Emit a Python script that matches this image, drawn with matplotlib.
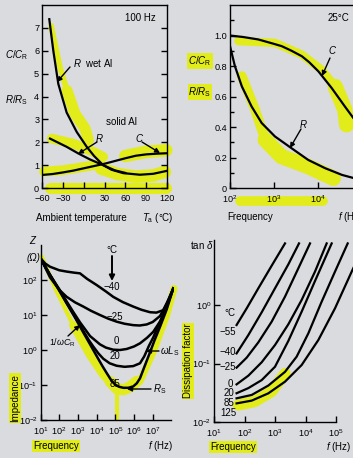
import matplotlib
matplotlib.use('Agg')
import matplotlib.pyplot as plt
import matplotlib.transforms as mtransforms
from matplotlib import font_manager as fm
from matplotlib.patches import FancyArrowPatch
from matplotlib.ticker import FixedLocator, NullLocator, FuncFormatter

# ---------------- data ----------------
# (a) C/C_R and R/R_S versus ambient temperature at 100 Hz
temp_wetR = [-49.5, -43.7, -36.5, -24.5, -10, 4.4, 15, 28, 40, 57, 81, 100, 120]
ratio_wetR = [7.38, 6.0, 4.55, 3.3, 2.45, 1.8, 1.4, 1.0, 0.8, 0.65, 0.58, 0.62, 0.75]
temp_solidR = [-48.5, -24.5, -7.7, 9, 28, 45, 60]
ratio_solidR = [2.16, 1.80, 1.51, 1.25, 1.0, 0.77, 0.66]
temp_C = [-60, -45, -30, -15, 0, 15, 30, 45, 60, 75, 90, 105, 120]
ratio_C = [0.57, 0.61, 0.68, 0.76, 0.86, 0.96, 1.06, 1.18, 1.30, 1.41, 1.47, 1.50, 1.52]
temp_ticks = [-60, -30, 0, 30, 60, 90, 120]

# (b) C/C_R and R/R_S versus frequency at 25 degC
freq_C = [100, 200, 440, 1000, 1500, 2500, 4300, 6300, 10200, 20400, 40700, 71000]
ratio_fC = [1.0, 0.99, 0.974, 0.945, 0.93, 0.90, 0.864, 0.825, 0.765, 0.656, 0.535, 0.44]
freq_R = [100, 129, 186, 309, 525, 1050, 2500, 6000, 14500, 35000, 71000]
ratio_fR = [0.93, 0.80, 0.666, 0.535, 0.426, 0.338, 0.261, 0.184, 0.13, 0.086, 0.062]

# (c) impedance versus frequency, per temperature (degC)
freq_m40 = [10, 18, 32, 100, 250, 630, 1290, 3160, 1.0e4, 3.16e4, 7.76e4, 2.51e5, 9.12e5,
            2.51e6, 7.24e6, 1.58e7, 3.72e7, 7.08e7, 1.26e8]
z_m40 = [417, 295, 240, 190, 174, 162, 155, 107, 72, 47, 33, 23.4, 17.4, 14.1, 12.0, 11.7,
         13.8, 28, 57.5]
freq_m25 = [10, 18, 32, 100, 250, 710, 1950, 5000, 1.51e4, 3.98e4, 1.17e5, 3.16e5, 9.12e5,
            2.0e6, 4.79e6, 1.0e7, 2.45e7, 5.62e7, 1.26e8]
z_m25 = [417, 224, 120, 52.5, 33.1, 22.9, 17.4, 13.2, 10.0, 7.94, 6.46, 5.62, 5.13, 5.01,
         5.37, 6.31, 9.33, 20.9, 57.5]
freq_0 = [10, 32, 100, 250, 560, 1290, 4470, 1.51e4, 3.16e4, 7.76e4, 1.78e5, 4.07e5, 1.0e6,
          2.09e6, 5.01e6, 1.07e7, 2.51e7, 5.62e7, 1.26e8]
z_0 = [417, 141, 55, 24.5, 12.3, 6.2, 2.5, 1.45, 1.17, 1.02, 1.0, 1.07, 1.26, 1.55, 2.24,
       3.31, 6.61, 18.2, 57.5]
freq_20 = [10, 32, 100, 250, 710, 1950, 3980, 6610, 1.26e4, 2.29e4, 5.01e4, 1.17e5, 3.16e5,
           9.12e5, 2.09e6, 3.55e6, 6.31e6, 1.07e7, 2.45e7, 5.62e7, 1.26e8]
z_20 = [417, 141, 52, 22.5, 8.9, 3.5, 1.86, 1.26, 0.794, 0.562, 0.417, 0.355, 0.331, 0.347,
        0.417, 0.661, 1.32, 2.29, 6.31, 16.6, 57.5]
freq_85 = [10, 32, 100, 250, 710, 1950, 4470, 1.0e4, 2.0e4, 3.47e4, 6.31e4, 1.0e5, 1.58e5,
           2.69e5, 5.01e5, 9.12e5, 1.41e6, 2.09e6, 3.98e6, 7.24e6, 1.26e7, 2.45e7, 5.62e7, 1.26e8]
z_85 = [417, 141, 50.1, 21.4, 8.32, 3.16, 1.45, 0.676, 0.355, 0.219, 0.132, 0.102, 0.0891,
        0.0832, 0.0832, 0.0912, 0.112, 0.155, 0.380, 0.871, 1.91, 4.57, 14.5, 57.5]
imp_labels = ['\u221240', '\u221225', '0', '20', '85']

# (d) dissipation factor versus frequency, per temperature (degC)
freq_d_m55 = [55, 118, 284, 778, 2128]
tan_m55 = [0.455, 0.877, 1.93, 4.70, 11.3]
freq_d_m40 = [55, 134, 366, 1000, 2735, 6124]
tan_m40 = [0.149, 0.307, 0.750, 1.93, 4.95, 11.3]
freq_d_m25 = [55, 118, 284, 778, 2128, 5821, 14060]
tan_m25 = [0.085, 0.126, 0.230, 0.519, 1.39, 4.24, 11.3]
freq_d_0 = [55, 134, 366, 1000, 2735, 7482, 20464, 49431]
tan_0 = [0.044, 0.062, 0.105, 0.207, 0.468, 1.22, 3.72, 11.3]
freq_d_20 = [55, 134, 366, 1000, 2735, 7482, 20464, 72111]
tan_20 = [0.031, 0.038, 0.052, 0.088, 0.243, 0.769, 2.57, 11.3]
freq_d_85 = [55, 172, 604, 2128, 5129, 12388, 33884, 92683, 241546]
tan_85 = [0.0254, 0.029, 0.042, 0.072, 0.131, 0.328, 1.14, 3.72, 11.3]
freq_d_125 = [55, 172, 604, 2128, 7482, 26363, 92683, 326588, 893305]
tan_125 = [0.0208, 0.0232, 0.0309, 0.0489, 0.0942, 0.252, 0.877, 3.72, 11.3]
df_labels = ['\u221255', '\u221240', '\u221225', '0', '20', '85', '125']

# yellow highlighter strokes (data coordinates of each panel)
hl_a_wet_T = [-47, -34, -24, -12.5, 2, 6.7]
hl_a_wet_V = [7.1, 5.27, 4.26, 3.25, 2.6, 2.09]
hl_a_solid_T = [-46, -15, 14, 28]
hl_a_solid_V = [2.16, 1.94, 1.58, 1.36]
hl_a_C_T = [-57, -30, 0, 25]
hl_a_C_V = [0.72, 0.78, 0.92, 1.05]
hl_a_min_T = [25, 50, 75, 100, 117]
hl_a_min_V = [0.85, 0.6, 0.5, 0.55, 0.7]
hl_a_right_T = [60, 90, 119]
hl_a_right_V = [1.4, 1.58, 1.65]
hl_a_axis_T = [-48, 119]
hl_b_C_f = [155, 1047, 4266, 12023, 24547, 40738, 44668]
hl_b_C_V = [0.963, 0.952, 0.875, 0.776, 0.666, 0.513, 0.414]
hl_b_R_f = [186, 372, 631, 1479, 6026, 22387]
hl_b_R_V = [0.733, 0.513, 0.316, 0.206, 0.140, 0.064]
hl_b_tick_f = [170, 12900]
hl_c_left_f = [11.5, 74, 562, 4467, 22909, 77625]
hl_c_left_Z = [468, 46.8, 5.13, 0.724, 0.195, 0.1]
hl_c_v_f = [52481, 117490, 269153, 630957, 1.38e6]
hl_c_v_Z = [0.126, 0.0794, 0.0724, 0.0891, 0.126]
hl_c_stem_f = [117490, 117490]
hl_c_stem_Z = [0.1, 0.011]
hl_c_right_f = [2.09e6, 1.07e7, 5.62e7, 1.38e8]
hl_c_right_Z = [0.126, 0.891, 10, 57.5]
hl_d_f = [63, 219, 776, 2138]
hl_d_D = [0.0195, 0.0224, 0.0331, 0.0676]

# ---------------- style ----------------
W, H = 353, 458
BG = '#d9dbdf'
YEL = '#e2ec1a'


def pick_font():
    for f in ['Liberation Sans Narrow', 'Liberation Sans', 'DejaVu Sans']:
        try:
            fm.findfont(fm.FontProperties(family=f), fallback_to_default=False)
            return f
        except Exception:
            pass
    return 'DejaVu Sans'


FONT = pick_font()
NARROW = FONT == 'Liberation Sans Narrow'
plt.rcParams['font.family'] = [FONT, 'DejaVu Sans']
plt.rcParams['mathtext.fontset'] = 'custom'
plt.rcParams['mathtext.rm'] = FONT
plt.rcParams['mathtext.it'] = FONT + ':italic'
plt.rcParams['mathtext.sf'] = FONT
FS = 8.0 if NARROW else 7.0
TFS = 7.6 if NARROW else 6.6

fig = plt.figure(figsize=(W / 100, H / 100), dpi=100, facecolor=BG)


def axes_px(l, t, r, b):
    ax = fig.add_axes([l / W, 1 - b / H, (r - l) / W, (b - t) / H])
    ax.set_facecolor('none')
    for s in ax.spines.values():
        s.set_linewidth(1.0)
    ax.tick_params(direction='in', length=4, width=1.0, labelsize=TFS, pad=2.0)
    return ax


def T(x, y, s, ha='center', va='center', hl=False, **kw):
    kw.setdefault('fontsize', FS)
    if hl:
        kw['bbox'] = dict(boxstyle='square,pad=0.1', fc=YEL, ec='none')
    fig.text(x / W, 1 - y / H, s, ha=ha, va=va, **kw)


def A(x0, y0, x1, y1, ms=7, lw=1.0):
    fig.add_artist(FancyArrowPatch((x0 / W, 1 - y0 / H), (x1 / W, 1 - y1 / H),
                                   transform=fig.transFigure, arrowstyle='-|>',
                                   mutation_scale=ms, lw=lw, color='k',
                                   shrinkA=0, shrinkB=0))


def stroke(ax, x, y, w, transform=None):
    kw = dict(color=YEL, lw=w, solid_capstyle='round', solid_joinstyle='round',
              zorder=1, clip_on=False)
    if transform is not None:
        kw['transform'] = transform
    ax.plot(x, y, **kw)


def dec_fmt(v, pos):
    import math
    return '$10^{%d}$' % round(math.log10(v))


LW = 1.6

# ---------------- (a) temperature ----------------
ax1 = axes_px(42, 5, 167, 188)
ax1.set_xlim(-60, 120)
ax1.set_ylim(0, 8)
stroke(ax1, hl_a_wet_T[:3], hl_a_wet_V[:3], 4)
stroke(ax1, hl_a_wet_T[2:], hl_a_wet_V[2:], 8)
stroke(ax1, hl_a_solid_T, hl_a_solid_V, 7)
stroke(ax1, hl_a_C_T, hl_a_C_V, 7)
stroke(ax1, hl_a_min_T, hl_a_min_V, 9)
stroke(ax1, hl_a_right_T, hl_a_right_V, 9)
stroke(ax1, hl_a_axis_T, [-0.02, -0.02], 8)
ax1.plot(temp_wetR, ratio_wetR, color='k', lw=LW, zorder=3)
ax1.plot(temp_solidR, ratio_solidR, color='k', lw=LW, zorder=3)
ax1.plot(temp_C, ratio_C, color='k', lw=LW, zorder=3)
ax1.xaxis.set_major_locator(FixedLocator(temp_ticks))
ax1.set_xticklabels([('%d' % t).replace('-', '\u2212') for t in temp_ticks])
ax1.yaxis.set_major_locator(FixedLocator(range(0, 8)))
ax1.tick_params(axis='y', right=True)
ax1.tick_params(axis='x', pad=4)

T(140, 18, '100 Hz')
T(17, 55, r'$C/C_\mathrm{R}$')
T(17, 100, r'$R/R_\mathrm{S}$')
T(73, 63, r'$R$  wet Al', ha='left')
A(70, 67, 57, 82)
T(106, 122, 'solid Al', ha='left')
T(99, 138, r'$R$')
A(97, 142, 78, 154)
T(140, 138, r'$C$')
A(142, 142, 160, 153)
T(36, 218, 'Ambient temperature', ha='left')
T(174, 218, r'$T_\mathrm{a}$ (°C)', ha='right')

# ---------------- (b) frequency, 25 degC ----------------
ax2 = axes_px(230, 5, 230 + 44 * 3.5, 188)
ax2.set_xscale('log')
ax2.set_xlim(1e2, 10 ** 5.5)
ax2.set_ylim(0, 1.2)
ax2.spines['right'].set_visible(False)
stroke(ax2, hl_b_C_f[:5], hl_b_C_V[:5], 6)
stroke(ax2, hl_b_C_f[4:], hl_b_C_V[4:], 11)
stroke(ax2, hl_b_R_f[:3], hl_b_R_V[:3], 7)
stroke(ax2, hl_b_R_f[2:], hl_b_R_V[2:], 11)
stroke(ax2, hl_b_tick_f, [-0.071, -0.071], 7,
       transform=mtransforms.blended_transform_factory(ax2.transData, ax2.transAxes))
ax2.plot(freq_C, ratio_fC, color='k', lw=LW, zorder=3)
ax2.plot(freq_R, ratio_fR, color='k', lw=LW, zorder=3)
ax2.xaxis.set_major_locator(FixedLocator([1e2, 1e3, 1e4, 1e5]))
ax2.xaxis.set_major_formatter(FuncFormatter(dec_fmt))
ax2.xaxis.set_minor_locator(NullLocator())
ax2.yaxis.set_major_locator(FixedLocator([0, 0.2, 0.4, 0.6, 0.8, 1.0]))
ax2.set_yticklabels(['0', '0.2', '0.4', '0.6', '0.8', '1.0'])
ax2.yaxis.set_minor_locator(FixedLocator([0.1, 0.3, 0.5, 0.7, 0.9, 1.1]))
ax2.tick_params(which='minor', direction='in', length=3, width=1.0)
ax2.tick_params(axis='x', pad=4)

T(338, 18, '25°C')
T(200, 61, r'$C/C_\mathrm{R}$', hl=True)
T(200, 92, r'$R/R_\mathrm{S}$', hl=True)
T(333, 50, r'$C$')
A(330, 58, 322, 76)
T(303, 124, r'$R$')
A(301, 129, 290, 148)
T(227, 217, 'Frequency', ha='left')
T(338, 217, r'$f$ (Hz)', ha='left')

# ---------------- (c) impedance ----------------
ax3 = axes_px(40.5, 245, 40.5 + 18.7 * 7.15, 420)
ax3.set_xscale('log')
ax3.set_yscale('log')
ax3.set_xlim(10, 10 ** 8.15)
ax3.set_ylim(1e-2, 1e3)
ax3.spines['top'].set_visible(False)
ax3.spines['right'].set_visible(False)
ax3.spines['bottom'].set_bounds(10, 1e8)
stroke(ax3, hl_c_left_f[:3], hl_c_left_Z[:3], 3)
stroke(ax3, hl_c_left_f[2:], hl_c_left_Z[2:], 6)
stroke(ax3, hl_c_v_f, hl_c_v_Z, 8)
stroke(ax3, hl_c_stem_f, hl_c_stem_Z, 3)
stroke(ax3, hl_c_right_f, hl_c_right_Z, 5)
for fx_, zy_ in [(freq_m40, z_m40), (freq_m25, z_m25), (freq_0, z_0), (freq_20, z_20),
                 (freq_85, z_85)]:
    ax3.plot(fx_, zy_, color='k', lw=1.8, zorder=3)
ax3.xaxis.set_major_locator(FixedLocator([10 ** k for k in range(1, 8)]))
ax3.xaxis.set_major_formatter(FuncFormatter(dec_fmt))
ax3.xaxis.set_minor_locator(NullLocator())
ax3.yaxis.set_major_locator(FixedLocator([10.0 ** k for k in range(-2, 3)]))
ax3.yaxis.set_major_formatter(FuncFormatter(dec_fmt))
ax3.yaxis.set_minor_locator(NullLocator())
ax3.tick_params(axis='x', pad=4)

T(33, 240, r'$Z$')
T(33, 258, '(Ω)', fontstyle='italic')
T(112, 250, '°C')
A(112, 256, 112, 281, ms=8, lw=1.4)
for lab, (x, y) in zip(imp_labels, [(112, 287), (115, 317), (116, 341), (115, 356), (115, 384)]):
    T(x, y, lab)
T(160, 351, r'$\omega L_\mathrm{S}$', ha='left')
A(159, 351, 146, 351)
T(153, 389, r'$R_\mathrm{S}$', ha='left')
A(151, 389, 127, 389)
T(62, 343, r'$1/\omega C_\mathrm{R}$', fontsize=FS - 0.6)
A(68, 336, 80, 325)
T(15, 398, 'Impedance', rotation=90, hl=True)
T(33, 446, 'Frequency', ha='left', hl=True)
T(148, 446, r'$f$ (Hz)', ha='left')

# ---------------- (d) dissipation factor ----------------
ax4 = axes_px(214, 239.5, 214 + 30.5 * 5, 422)
ax4.set_xscale('log')
ax4.set_yscale('log')
ax4.set_xlim(10, 1e6)
ax4.set_ylim(1e-2, 10 ** 1.12)
ax4.spines['top'].set_visible(False)
ax4.spines['right'].set_visible(False)
ax4.spines['bottom'].set_bounds(10, 1e5)
stroke(ax4, hl_d_f, hl_d_D, 8)
for fx_, dy_ in [(freq_d_m55, tan_m55), (freq_d_m40, tan_m40), (freq_d_m25, tan_m25),
                 (freq_d_0, tan_0), (freq_d_20, tan_20), (freq_d_85, tan_85),
                 (freq_d_125, tan_125)]:
    ax4.plot(fx_, dy_, color='k', lw=LW, zorder=3, clip_on=False)
ax4.xaxis.set_major_locator(FixedLocator([10 ** k for k in range(1, 6)]))
ax4.xaxis.set_major_formatter(FuncFormatter(dec_fmt))
ax4.xaxis.set_minor_locator(NullLocator())
ax4.yaxis.set_major_locator(FixedLocator([1e-2, 1e-1, 1e0]))
ax4.yaxis.set_major_formatter(FuncFormatter(dec_fmt))
ax4.yaxis.set_minor_locator(NullLocator())
ax4.tick_params(axis='x', pad=4)

T(202, 245, r'tan $\delta$')
T(230, 313, '°C')
for lab, (x, y) in zip(df_labels, [(228, 332), (228, 352), (228, 367), (230, 384),
                                   (229, 393), (229, 403), (228, 413)]):
    T(x, y, lab)
T(188, 361, 'Dissipation factor', rotation=90, hl=True)
T(210, 447, 'Frequency', ha='left', hl=True)
T(326, 447, r'$f$ (Hz)', ha='left')

fig.savefig('out.png', dpi=100, facecolor=BG)
